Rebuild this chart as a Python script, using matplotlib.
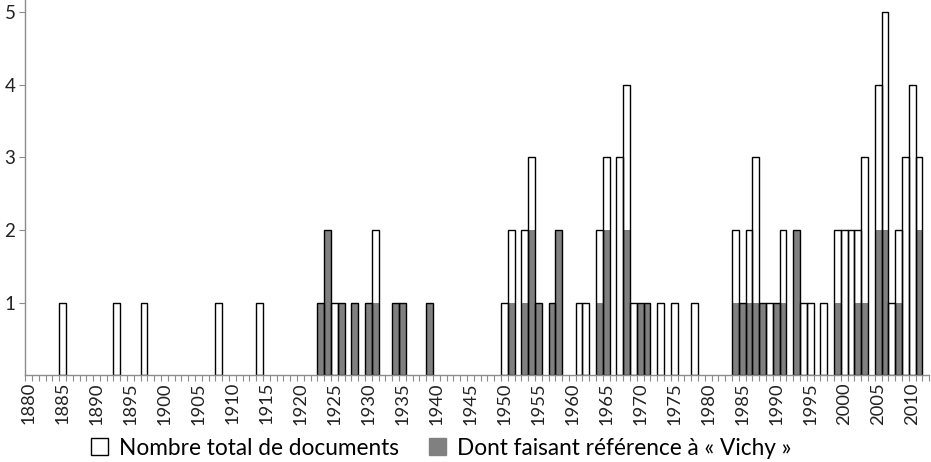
import numpy as np
import matplotlib
matplotlib.use("Agg")
import matplotlib.pyplot as plt
from matplotlib.patches import Patch

# --- data (years with at least one document) ---
years = [1885, 1893, 1897, 1908, 1914,
         1923, 1924, 1925, 1926, 1928, 1930, 1931, 1934, 1935, 1939,
         1950, 1951, 1953, 1954, 1955, 1957, 1958, 1961, 1962, 1964, 1965,
         1967, 1968, 1969, 1970, 1971, 1973, 1975, 1978,
         1984, 1985, 1986, 1987, 1988, 1989, 1990, 1991, 1993, 1994, 1995,
         1997, 1999, 2000, 2001, 2002, 2003, 2005, 2006, 2007, 2008, 2009,
         2010, 2011]
total = [1, 1, 1, 1, 1,
         1, 2, 1, 1, 1, 1, 2, 1, 1, 1,
         1, 2, 2, 3, 1, 1, 2, 1, 1, 2, 3,
         3, 4, 1, 1, 1, 1, 1, 1,
         2, 1, 2, 3, 1, 1, 1, 2, 2, 1, 1,
         1, 2, 2, 2, 2, 3, 4, 5, 1, 2, 3,
         4, 3]
vichy = [0, 0, 0, 0, 0,
         1, 2, 0, 1, 1, 1, 1, 1, 1, 1,
         0, 1, 1, 2, 1, 1, 2, 0, 0, 1, 2,
         0, 2, 0, 1, 1, 0, 0, 0,
         1, 1, 1, 1, 1, 0, 1, 1, 2, 0, 0,
         0, 1, 0, 0, 1, 1, 2, 2, 0, 1, 0,
         0, 2]
tick_years = list(range(1880, 2011, 5))
labels = ["Nombre total de documents", "Dont faisant référence à « Vichy »"]

plt.rcParams['font.family'] = ['Lato', 'DejaVu Sans']
grey = '#808080'
axis_col = '#8c8c8c'

fig = plt.figure(figsize=(9.31, 4.62), dpi=100)
ax = fig.add_axes([0.027, 0.188, 0.971, 0.812])

# grey part first (no outline), then the total bars as outlines on top
ax.bar(years, vichy, width=1.0, color=grey, linewidth=0)
ax.bar(years, total, width=1.0, facecolor='none', edgecolor='black', linewidth=1.0)

ax.set_xlim(1879.5, 2012.5)
ax.set_ylim(0, 5.17)

ax.set_xticks(tick_years)
ax.set_xticklabels([str(y) for y in tick_years], rotation=90, fontsize=13.2, color='#222222')
ax.set_xticks(np.arange(1879.5, 2013, 1), minor=True)
ax.tick_params(axis='x', which='major', length=0, pad=5)
ax.tick_params(axis='x', which='minor', length=4, width=0.8, color=axis_col)

ax.set_yticks([1, 2, 3, 4, 5])
ax.tick_params(axis='y', length=4, width=0.8, color=axis_col, labelsize=13.5,
               labelcolor='#222222', pad=3)

for side in ['top', 'right']:
    ax.spines[side].set_visible(False)
for side in ['left', 'bottom']:
    ax.spines[side].set_color(axis_col)
    ax.spines[side].set_linewidth(1.0)

handles = [Patch(facecolor='white', edgecolor='black', linewidth=1.0),
           Patch(facecolor=grey, edgecolor=grey)]
fig.legend(handles, labels, loc='center', bbox_to_anchor=(0.474, 0.03),
           ncol=2, frameon=False, fontsize=16.3, handlelength=0.75, handleheight=0.75,
           handletextpad=0.5, columnspacing=1.3)

fig.savefig('out.png', dpi=100)
